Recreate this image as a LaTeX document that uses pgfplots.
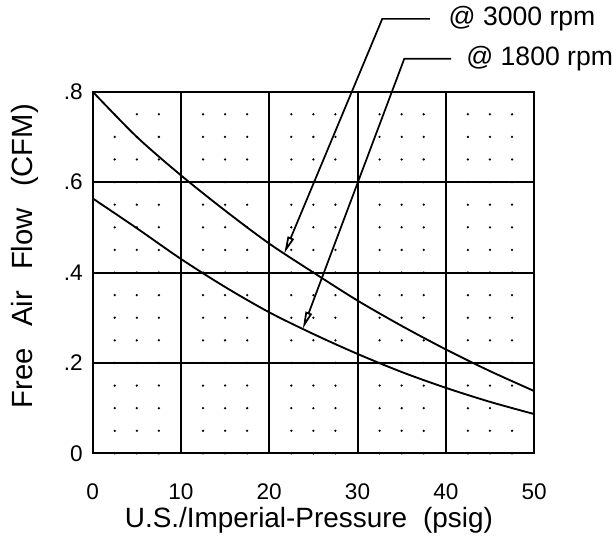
\documentclass[border=0pt]{standalone}
\usepackage{fontspec}
\setmainfont{Liberation Sans}
\usepackage{pgfplots}
\pgfplotsset{compat=1.18}
\usetikzlibrary{arrows.meta}
\begin{document}
\begin{tikzpicture}
\begin{axis}[
  scale only axis, width=332.25pt, height=272.25pt,
  xmin=0, xmax=50, ymin=0, ymax=0.8,
  xtick={0,10,20,30,40,50},
  ytick={0,0.2,0.4,0.6,0.8},
  yticklabels={0,.2,.4,.6,.8},
  minor x tick num=3,
  xmajorgrids, ymajorgrids, xminorgrids,
  major grid style={black, line width=1.5pt},
  minor grid style={black, line width=1.9pt, line cap=round, dash pattern=on 0pt off 17.015625pt},
  major tick length=0pt, minor tick length=0pt,
  axis line style={black, line width=1.5pt},
  /pgf/number format/assume math mode=true,
  tick label style={font=\fontsize{17}{20}\selectfont},
  xticklabel style={yshift=-19pt},
  yticklabel style={xshift=-4pt},
  xlabel={U.S./Imperial-Pressure\hspace{0.3em} (psig)},
  ylabel={Free\hspace{0.45em} Air\hspace{0.45em} Flow\hspace{0.45em} (CFM)},
  label style={font=\fontsize{21}{25}\selectfont},
  xlabel style={at={(axis description cs:0.49,-0.184)}, anchor=center},
  ylabel style={at={(axis description cs:-0.1535,0.545)}, anchor=center, font=\fontsize{22}{26}\selectfont},
  clip=false,
]
\addplot[black, line width=1.4pt, smooth] coordinates {
 (0,0.800) (5,0.700) (10,0.615) (15,0.537) (20,0.464) (25,0.400)
 (30,0.338) (35,0.282) (40,0.230) (45,0.182) (50,0.138)};
\addplot[black, line width=1.4pt, smooth] coordinates {
 (0,0.564) (5,0.498) (10,0.430) (15,0.368) (20,0.312) (25,0.264)
 (30,0.220) (35,0.180) (40,0.145) (45,0.114) (50,0.087)};
\draw[black, line width=1.3pt, -{Triangle[open, length=13pt, width=5pt]}]
  (axis cs:38.2,0.961) -- (axis cs:32.8,0.961) -- (axis cs:21.7,0.442);
\draw[black, line width=1.3pt, -{Triangle[open, length=13pt, width=5pt]}]
  (axis cs:40.6,0.873) -- (axis cs:35.3,0.873) -- (axis cs:23.8,0.2755);
\node[anchor=west, inner sep=0pt, font=\fontsize{20}{24}\selectfont] at (axis cs:40.3,0.961) {@ 3000 rpm};
\node[anchor=west, inner sep=0pt, font=\fontsize{20}{24}\selectfont] at (axis cs:42.3,0.873) {@ 1800 rpm};
\coordinate (sw) at (rel axis cs:0,0);
\coordinate (ne) at (rel axis cs:1,1);
\end{axis}
\path[use as bounding box] ([shift={(-69.75pt,-63.75pt)}]sw) rectangle ([shift={(57.75pt,69pt)}]ne);
\end{tikzpicture}
\end{document}
